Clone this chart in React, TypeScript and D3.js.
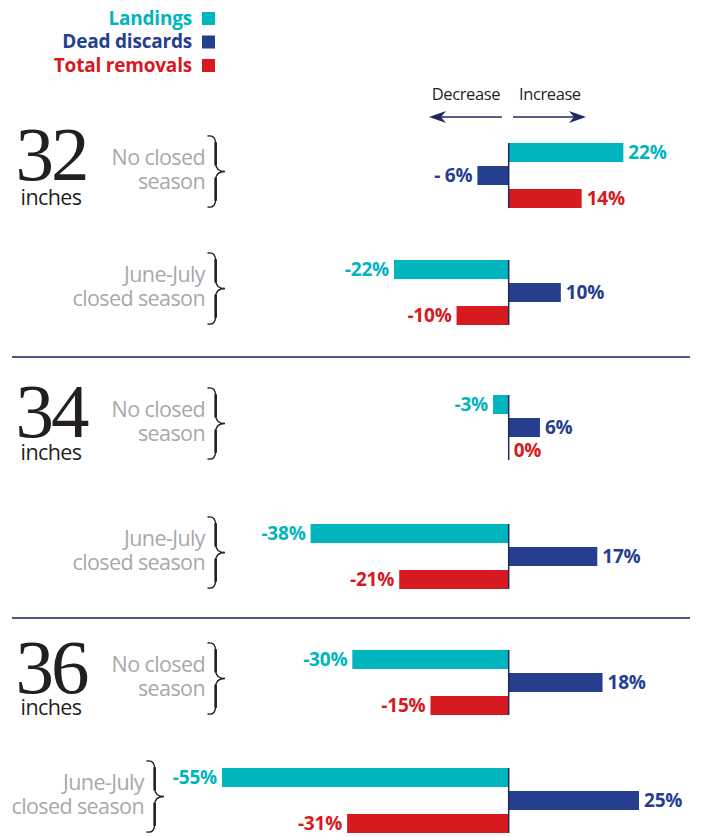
import React from "react";
import * as d3 from "d3";

// ---- data ----
const groups = ["32", "34", "36"];
const unitLabel = "inches";
const seasonLines = [
  ["No closed", "season"],
  ["June-July", "closed season"],
];
const series = ["Landings", "Dead discards", "Total removals"];
const landings = [22, -22, -3, -38, -30, -55];
const deadDiscards = [-6, 10, 6, 17, 18, 25];
const totalRemovals = [14, -10, 0, -21, -15, -31];
const directionLabels = ["Decrease", "Increase"];

// ---- styles / layout ----
const W = 702;
const H = 837;
const colors = ["#00b5bd", "#253e8e", "#d71920"];
const panelTops = [143, 260, 395, 524, 650, 768];
const seasonTextRight = [205, 205, 205, 205, 205, 144];
const bigNumberY = [180, 437, 693];
const inchesY = [205, 460, 715];
const separatorsY = [357, 618];
const PANEL_H = 65;

const x = d3.scaleLinear().domain([-55, 25]).range([222, 639]);
const band = d3.scaleBand<string>().domain(series).range([0, PANEL_H]).paddingInner(0.174);

const seriesValues = [landings, deadDiscards, totalRemovals];

const fmt = (v: number, s: number, p: number) => {
  if (s === 1 && p === 0) return `- ${Math.abs(v)}%`;
  return `${v}%`;
};

function bracePaths(x0: number, y0: number, y1: number, w: number) {
  const h = y1 - y0;
  const mid = (y0 + y1) / 2;
  const xm = x0 + w * 0.45;
  const p = d3.path();
  p.moveTo(x0, y0);
  p.bezierCurveTo(x0 + w * 0.35, y0 - 1, xm, y0 + h * 0.04, xm, y0 + h * 0.12);
  p.lineTo(xm, mid - h * 0.12);
  p.bezierCurveTo(xm, mid - h * 0.03, x0 + w * 0.7, mid, x0 + w, mid);
  p.bezierCurveTo(x0 + w * 0.7, mid, xm, mid + h * 0.03, xm, mid + h * 0.12);
  p.lineTo(xm, y1 - h * 0.12);
  p.bezierCurveTo(xm, y1 - h * 0.04, x0 + w * 0.35, y1 + 1, x0, y1);
  const t1 = `M${xm},${y0 + h * 0.1} L${xm},${mid - h * 0.1}`;
  const t2 = `M${xm},${mid + h * 0.1} L${xm},${y1 - h * 0.1}`;
  return { outline: p.toString(), thick: [t1, t2] };
}

export default function App() {
  const labelFont = "'Open Sans', 'Noto Sans', sans-serif";
  return (
    <svg
      width={W}
      height={H}
      viewBox={`0 0 ${W} ${H}`}
      style={{ position: "absolute", left: 0, top: 0, display: "block", background: "#fff" }}
    >
      {/* legend */}
      {series.map((s, i) => (
        <g key={s}>
          <text
            x={192}
            y={24.5 + i * 23.5}
            textAnchor="end"
            fontFamily={labelFont}
            fontWeight={700}
            fontSize={19}
            fill={colors[i]}
            letterSpacing={-0.2}
          >
            {s}
          </text>
          <rect x={202} y={12 + i * 23.5} width={13} height={13} fill={colors[i]} />
        </g>
      ))}

      {/* direction */}
      <text x={500} y={100} textAnchor="end" fontFamily={labelFont} fontSize={16.5} fill="#231f20" letterSpacing={-0.4}>
        {directionLabels[0]}
      </text>
      <text x={519} y={100} textAnchor="start" fontFamily={labelFont} fontSize={16.5} fill="#231f20" letterSpacing={-0.4}>
        {directionLabels[1]}
      </text>
      <line x1={502} x2={438} y1={117} y2={117} stroke="#1e2b5c" strokeWidth={1.6} />
      <path d="M429,117 L446,111 L441,117 L446,123 Z" fill="#1e2b5c" />
      <line x1={513} x2={577} y1={117} y2={117} stroke="#1e2b5c" strokeWidth={1.6} />
      <path d="M586,117 L569,111 L574,117 L569,123 Z" fill="#1e2b5c" />

      {/* separators */}
      {separatorsY.map((y) => (
        <line key={y} x1={12} x2={690} y1={y} y2={y} stroke="#4d5a85" strokeWidth={1.8} />
      ))}

      {/* group labels */}
      {groups.map((g, gi) => (
        <g key={g}>
          <text
            x={51}
            y={bigNumberY[gi]}
            textAnchor="middle"
            fontFamily="'Liberation Serif', 'DejaVu Serif', serif"
            fontSize={77}
            fill="#231f20"
            letterSpacing={-3}
          >
            {g}
          </text>
          <text
            x={51}
            y={inchesY[gi]}
            textAnchor="middle"
            fontFamily={labelFont}
            fontSize={21.5}
            fill="#231f20"
            letterSpacing={-0.6}
          >
            {unitLabel}
          </text>
        </g>
      ))}

      {/* panels */}
      {panelTops.map((top, p) => {
        const lines = seasonLines[p % 2];
        const mid = top + PANEL_H / 2;
        const tr = seasonTextRight[p];
        const br = bracePaths(tr + 3, top - 7, top + PANEL_H - 1, 17);
        return (
          <g key={p}>
            <text x={tr} y={mid - 11} textAnchor="end" fontFamily={labelFont} fontSize={21.5} fill="#a7a9ac" letterSpacing={-0.6}>
              {lines[0]}
            </text>
            <text x={tr} y={mid + 13} textAnchor="end" fontFamily={labelFont} fontSize={21.5} fill="#a7a9ac" letterSpacing={-0.6}>
              {lines[1]}
            </text>
            <path d={br.outline} fill="none" stroke="#231f20" strokeWidth={1.3} strokeLinecap="round" />
            {br.thick.map((d, k) => (
              <path key={k} d={d} fill="none" stroke="#231f20" strokeWidth={2.6} strokeLinecap="round" />
            ))}

            {series.map((s, si) => {
              const v = seriesValues[si][p];
              const y0 = top + (band(s) as number);
              const bw = band.bandwidth();
              const xa = x(Math.min(0, v));
              const xb = x(Math.max(0, v));
              const neg = v < 0;
              return (
                <g key={s}>
                  <rect x={xa} y={y0} width={xb - xa} height={bw} fill={colors[si]} />
                  <text
                    x={neg ? xa - 5 : xb + 5}
                    y={y0 + bw / 2 + 6.5}
                    textAnchor={neg ? "end" : "start"}
                    fontFamily={labelFont}
                    fontWeight={700}
                    fontSize={19}
                    fill={colors[si]}
                    letterSpacing={-0.2}
                  >
                    {fmt(v, si, p)}
                  </text>
                </g>
              );
            })}
            <line x1={x(0)} x2={x(0)} y1={top} y2={top + PANEL_H} stroke="#1e2b5c" strokeWidth={1.5} />
          </g>
        );
      })}
    </svg>
  );
}
